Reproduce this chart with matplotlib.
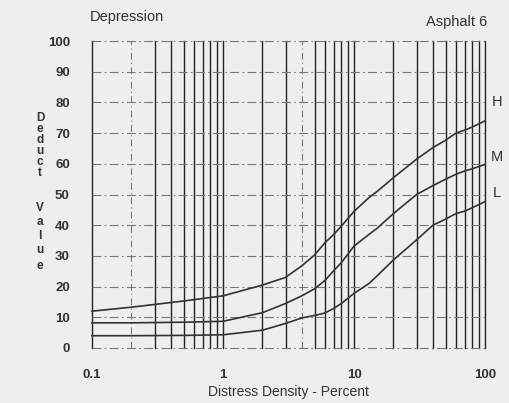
import numpy as np
import matplotlib as mpl
import matplotlib.pyplot as plt

mpl.rcParams['font.family'] = ['Liberation Sans', 'DejaVu Sans']

# 读图得到的数据
density = [0.1, 0.2, 0.5, 1, 2, 3, 4, 5, 6, 7, 8, 10, 13, 15, 20, 30, 40, 50, 60, 70, 80, 100]
dv_H = [12, 13.3, 15.3, 17, 20.5, 23, 26.8, 30.3, 34.3, 37, 39.7, 44.5, 49, 51, 55.5, 61.5, 65.3, 67.7, 70, 71, 72, 74]
dv_M = [8.2, 8.2, 8.4, 8.7, 11.5, 14.5, 17, 19.3, 22, 25.2, 27.8, 33.2, 37, 39, 43.8, 50, 52.9, 55, 56.6, 57.7, 58.4, 59.8]
dv_L = [4, 4, 4.1, 4.3, 5.8, 8, 9.8, 10.6, 11.4, 12.9, 14.5, 17.8, 21, 23.5, 28.7, 35.2, 40, 42, 43.8, 44.6, 45.7, 47.7]

x_ticks = [0.1, 1, 10, 100]
x_ticklabels = ['0.1', '1', '10', '100']
y_ticks = [0, 10, 20, 30, 40, 50, 60, 70, 80, 90, 100]
v_grid = [0.1, 0.2, 0.3, 0.4, 0.5, 0.6, 0.7, 0.8, 0.9, 1,
          2, 3, 4, 5, 6, 7, 8, 9, 10,
          20, 30, 40, 50, 60, 70, 80, 90, 100]
dashed_v = [0.2, 4]

fig = plt.figure(figsize=(5.1, 4.03), dpi=100, facecolor='#eeeeee')
ax = fig.add_axes([0.1804, 0.1365, 0.7706, 0.7615])
ax.set_facecolor('#eeeeee')
ax.set_xscale('log')
ax.set_xlim(0.1, 100)
ax.set_ylim(0, 100)
for s in ax.spines.values():
    s.set_visible(False)

## 网格线
for v in v_grid:
    if v in dashed_v:
        ax.axvline(v, color='#777777', lw=0.8, ls=(0, (6, 3, 1, 3)), clip_on=False)
    else:
        ax.axvline(v, color='#222222', lw=1.0, clip_on=False)
for h in y_ticks:
    ax.axhline(h, color='#777777', lw=0.8, ls=(0, (8, 3, 1.5, 3)), clip_on=False)

## 曲线
for yv in (dv_H, dv_M, dv_L):
    ax.plot(density, yv, color='#333333', lw=1.2, clip_on=False)

ax.set_xticks(x_ticks)
ax.set_xticklabels(x_ticklabels)
ax.xaxis.set_minor_locator(mpl.ticker.NullLocator())
ax.set_yticks(y_ticks)
ax.tick_params(length=0, labelsize=9.5, labelcolor='#333333')
ax.tick_params(axis='x', pad=15)
ax.tick_params(axis='y', pad=16)
for lab in ax.get_xticklabels() + ax.get_yticklabels():
    lab.set_fontweight('bold')

ax.set_xlabel('Distress Density - Percent', fontsize=10, color='#333333', labelpad=3)

# 竖排的 y 轴标题
letters = list('Deduct') + [''] + list('Value')
ys = [118, 129, 140, 151, 162, 173, 0, 208, 222, 236, 250, 266]
for ch, yy in zip(letters, ys):
    if ch:
        fig.text(40 / 510, 1 - yy / 403, ch, fontsize=8.5, color='#333333',
                 ha='center', va='center', fontweight='bold')

fig.text(90 / 510, 1 - 17 / 403, 'Depression', fontsize=10.5, color='#333333', va='center')
fig.text(487 / 510, 1 - 22 / 403, 'Asphalt 6', fontsize=10.5, color='#333333', va='center', ha='right')

for lbl, yy in (('H', 102), ('M', 157), ('L', 193)):
    fig.text(497 / 510, 1 - yy / 403, lbl, fontsize=10.5, color='#333333', ha='center', va='center')

plt.savefig('out.png', dpi=100, facecolor=fig.get_facecolor())
